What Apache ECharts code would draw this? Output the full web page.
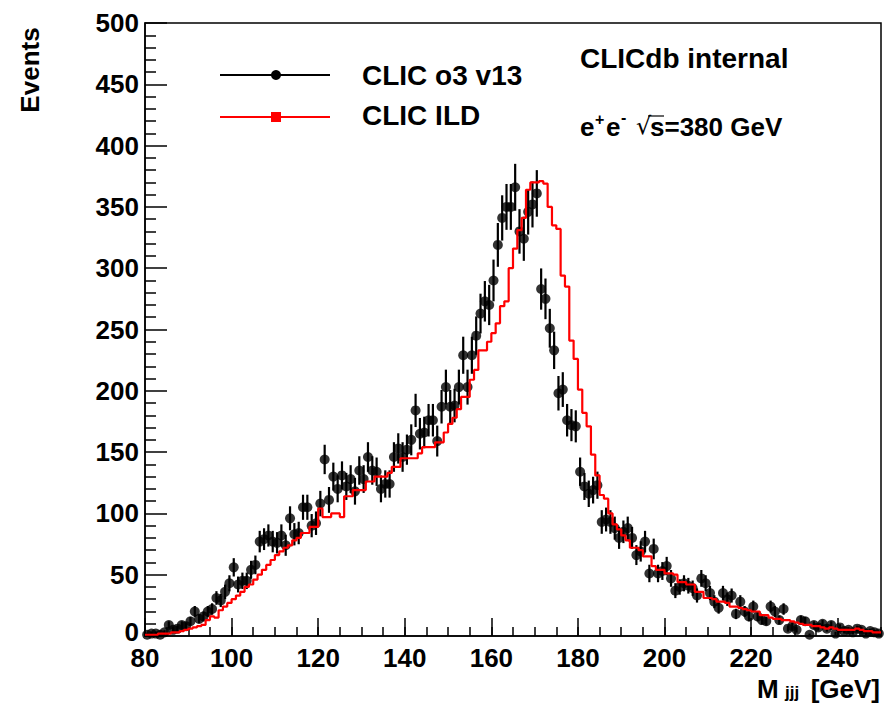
<!DOCTYPE html>
<html><head><meta charset="utf-8">
<script src="https://cdn.jsdelivr.net/npm/echarts@6/dist/echarts.min.js"></script>
<style>html,body{margin:0;padding:0;background:#fff}#c{width:884px;height:704px}</style>
</head><body><div id="c"></div>
<script>
// ---- data ----
const binStart = 80;
const binWidth = 1;
// CLIC ILD (red histogram), bins 80..249 GeV
const ildCounts = [
  1,1,1,2,2,2,3,3,4,5,
  6,7,8,9,13,16,15,21,24,27,
  30,33,36,40,42,46,50,54,58,62,
  66,69,72,74,78,80,84,84,89,89,
  104,97,97,100,100,97,114,114,119,119,
  119,126,126,130,130,130,133,138,138,145,
  145,145,145,149,154,154,154,158,158,166,
  173,178,185,195,195,209,217,233,233,240,
  247,255,269,273,300,316,331,341,364,370,
  370,371,369,350,335,332,294,285,241,226,
  201,182,171,148,131,115,112,100,91,87,
  82,78,72,72,70,65,65,57,54,54,
  51,51,50,44,44,42,42,36,36,31,
  31,30,28,28,27,24,24,23,22,21,
  20,20,17,17,15,14,14,13,13,12,
  11,10,9,9,8,8,7,6,7,6,
  5,5,5,5,6,5,4,4,3,3
];
// CLIC o3 v13 (black points), bins 80..249 GeV
const o3Counts = [
  1,2,2,1,3,9,5,6,9,8,
  12,20,14,16,20,22,31,29,36,43,
  56,42,45,45,54,58,77,79,82,77,
  76,82,74,96,83,84,105,105,90,92,
  108,144,111,130,120,131,122,128,118,135,
  128,146,135,134,120,124,124,146,153,146,
  152,160,184,165,166,176,176,159,187,203,
  187,188,203,229,203,229,245,263,273,270,
  290,319,341,350,350,366,330,324,346,352,
  361,283,275,251,233,198,201,176,172,171,
  134,122,116,119,123,93,95,93,88,80,
  85,88,80,66,69,77,51,71,51,53,
  57,47,37,40,43,41,39,33,47,43,
  35,28,23,35,30,33,18,28,20,16,
  24,16,13,12,24,20,13,22,6,8,
  5,13,12,1,9,7,10,6,9,2,
  7,4,5,3,6,5,2,4,3,2
];
const xTickLabels = [80,100,120,140,160,180,200,220,240];
const yTickLabels = [0,50,100,150,200,250,300,350,400,450,500];
const seriesNames = ['CLIC o3 v13', 'CLIC ILD'];

// ---- build ----
const centers = o3Counts.map((_, i) => binStart + (i + 0.5) * binWidth);
const ildPath = [];
ildCounts.forEach((v, i) => {
  const lo = binStart + i * binWidth;
  ildPath.push([lo, v], [lo + binWidth, v]);
});
const pts = o3Counts.map((v, i) => [centers[i], v]);
const errs = o3Counts.map((v, i) => [centers[i], v - Math.sqrt(v), v + Math.sqrt(v)]);

const FONT = '"Liberation Sans", Arial, Helvetica, sans-serif';
const chart = echarts.init(document.getElementById('c'), null, {renderer: 'svg'});
const xMin = binStart, xMax = binStart + o3Counts.length * binWidth;

chart.setOption({
  animation: false,
  backgroundColor: '#fff',
  grid: {left: 145, right: 3, top: 23, bottom: 68, show: true, borderColor: '#000', borderWidth: 1.5},
  xAxis: [{
    type: 'value', min: xMin, max: xMax, interval: 20, position: 'bottom',
    axisLine: {show: true, lineStyle: {color: '#000', width: 1.5}},
    axisTick: {show: true, inside: true, length: 18, lineStyle: {color: '#000', width: 1.5}},
    axisLabel: {show: true, margin: 13, lineHeight: 18, color: '#000', fontFamily: FONT, fontWeight: 'bold', fontSize: 26,
      showMaxLabel: false,
      formatter: v => xTickLabels.indexOf(v) >= 0 ? String(v) : ''},
    splitLine: {show: false}
  }, {
    type: 'value', min: xMin, max: xMax, interval: 5, position: 'bottom', offset: 0,
    axisLine: {show: false},
    axisTick: {show: true, inside: true, length: 9, lineStyle: {color: '#000', width: 1.5}},
    axisLabel: {show: false},
    splitLine: {show: false}
  }],
  yAxis: {
    type: 'value', min: 0, max: 500, interval: 50,
    axisLine: {show: true, lineStyle: {color: '#000', width: 1.5}},
    axisTick: {show: true, inside: true, length: 22, lineStyle: {color: '#000', width: 1.5}},
    minorTick: {show: true, splitNumber: 5, length: 11, lineStyle: {color: '#000', width: 1.5}},
    axisLabel: {margin: 6, lineHeight: 14, color: '#000', fontFamily: FONT, fontWeight: 'bold', fontSize: 26,
      formatter: v => yTickLabels.indexOf(v) < 0 ? '' : (v === 0 ? '{z|0}' : String(v)),
      rich: {z: {fontFamily: FONT, fontWeight: 'bold', fontSize: 26, color: '#000', lineHeight: 14, padding: [0, 0, 8, 0]}}},
    splitLine: {show: false}
  },
  series: [{
    name: seriesNames[0] + ' errors', type: 'custom', xAxisIndex: 0, z: 2,
    data: errs,
    renderItem: (params, api) => {
      const p1 = api.coord([api.value(0), api.value(1)]);
      const p2 = api.coord([api.value(0), api.value(2)]);
      return {type: 'line', shape: {x1: p1[0], y1: p1[1], x2: p2[0], y2: p2[1]},
        style: {stroke: '#000', lineWidth: 2.2}};
    },
    clip: true
  }, {
    name: seriesNames[0], type: 'scatter', xAxisIndex: 0, z: 3,
    data: pts, symbol: 'circle', symbolSize: 10,
    itemStyle: {color: '#000'}
  }, {
    name: seriesNames[1], type: 'line', xAxisIndex: 0, z: 4,
    data: ildPath, showSymbol: false, symbol: 'none',
    lineStyle: {color: '#ff0000', width: 2.2}
  }],
  graphic: [
    // legend
    {type: 'line', shape: {x1: 220, y1: 75, x2: 330, y2: 75}, style: {stroke: '#000', lineWidth: 2}},
    {type: 'circle', shape: {cx: 276, cy: 75, r: 5}, style: {fill: '#000'}},
    {type: 'line', shape: {x1: 220, y1: 117, x2: 330, y2: 117}, style: {stroke: '#ff0000', lineWidth: 2}},
    {type: 'rect', shape: {x: 271, y: 112, width: 10, height: 10}, style: {fill: '#ff0000'}},
    {type: 'text', left: 362, top: 61, style: {text: seriesNames[0], fontFamily: FONT, fontWeight: 'bold', fontSize: 28, fill: '#000'}},
    {type: 'text', left: 362, top: 101, style: {text: seriesNames[1], fontFamily: FONT, fontWeight: 'bold', fontSize: 28, fill: '#000'}},
    // annotations
    {type: 'text', left: 580, top: 44, style: {text: 'CLICdb internal', fontFamily: FONT, fontWeight: 'bold', fontSize: 28, fill: '#000'}},
    {type: 'text', left: 580, top: 114, style: {text: 'e', fontFamily: FONT, fontWeight: 'bold', fontSize: 26, fill: '#000'}},
    {type: 'text', left: 595, top: 111, style: {text: '+', fontFamily: FONT, fontWeight: 'bold', fontSize: 16, fill: '#000'}},
    {type: 'text', left: 606, top: 114, style: {text: 'e', fontFamily: FONT, fontWeight: 'bold', fontSize: 26, fill: '#000'}},
    {type: 'text', left: 621, top: 109, style: {text: '-', fontFamily: FONT, fontWeight: 'bold', fontSize: 16, fill: '#000'}},
    {type: 'text', left: 636, top: 114, style: {text: '\u221A', fontFamily: '"DejaVu Sans", sans-serif', fontSize: 24, fill: '#000'}},
    {type: 'line', shape: {x1: 648, y1: 116, x2: 664, y2: 116}, style: {stroke: '#000', lineWidth: 1.2}},
    {type: 'text', left: 650, top: 114, style: {text: 's=380 GeV', fontFamily: FONT, fontWeight: 'bold', fontSize: 26, fill: '#000'}},
    // axis titles
    {type: 'text', x: 30, y: 70, rotation: Math.PI / 2,
      style: {text: 'Events', fontFamily: FONT, fontWeight: 'bold', fontSize: 26, fill: '#000', align: 'center', verticalAlign: 'middle'}},
    {type: 'text', left: 757, top: 676, style: {text: 'M', fontFamily: FONT, fontWeight: 'bold', fontSize: 26, fill: '#000'}},
    {type: 'text', left: 785, top: 684, style: {text: 'jjj', fontFamily: FONT, fontWeight: 'bold', fontSize: 17, fill: '#000'}},
    {type: 'text', right: 4, top: 676, style: {text: '[GeV]', fontFamily: FONT, fontWeight: 'bold', fontSize: 26, fill: '#000'}}
  ]
});
</script></body></html>
